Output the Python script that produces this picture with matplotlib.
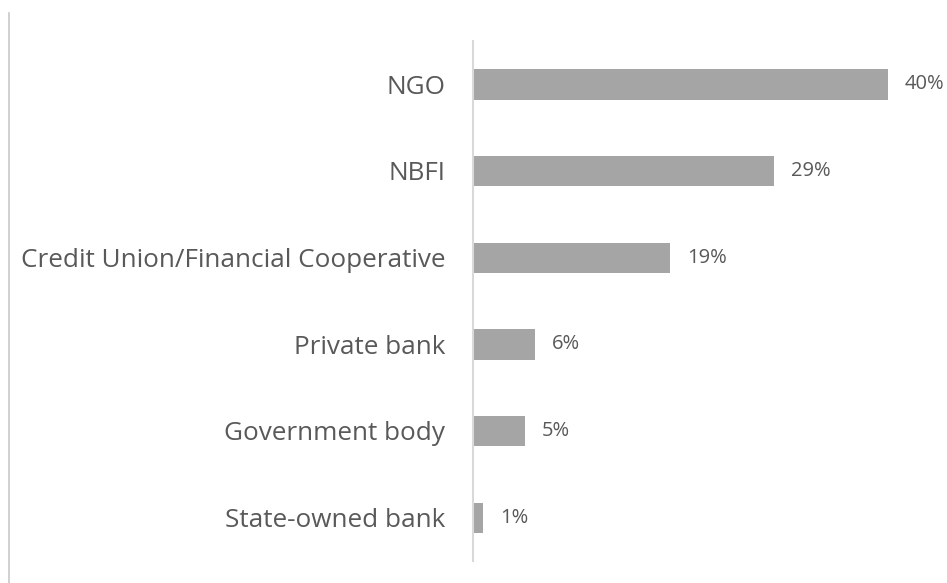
import matplotlib.pyplot as plt
from matplotlib.lines import Line2D

plt.rcParams['font.family'] = ['Open Sans', 'DejaVu Sans']

categories = ['NGO', 'NBFI', 'Credit Union/Financial Cooperative',
              'Private bank', 'Government body', 'State-owned bank']
shares = [40, 29, 19, 6, 5, 1]

W, H = 947, 583
fig = plt.figure(figsize=(W / 100, H / 100), dpi=100)

# axes placed in pixel terms: left at 473px, plot area from y=41 to y=561
left, right, top, bottom = 473, 940, 41, 561
ax = fig.add_axes([left / W, 1 - bottom / H, (right - left) / W, (bottom - top) / H])

pos = list(range(len(categories)))
ax.barh(pos, shares, height=0.35, color='#A5A5A5')
ax.set_ylim(len(categories) - 0.5, -0.5)
ax.set_xlim(0, 45)

for p, v in zip(pos, shares):
    ax.text(v + 1.6, p, f'{v}%', va='center', ha='left',
            fontsize=14.5, color='#595959')

ax.set_yticks(pos)
ax.set_yticklabels(categories, fontsize=18.8, color='#595959')
ax.tick_params(axis='y', length=0, pad=20)
ax.set_xticks([])

for s in ['top', 'right', 'bottom']:
    ax.spines[s].set_visible(False)
ax.spines['left'].set_color('#D9D9D9')
ax.spines['left'].set_linewidth(1.5)

# faint border line along the left edge
fig.add_artist(Line2D([8.5 / W, 8.5 / W], [0, 1 - 13 / H],
                      transform=fig.transFigure, color='#C8C8C8', lw=1.2))

fig.savefig('out.png', dpi=100)
